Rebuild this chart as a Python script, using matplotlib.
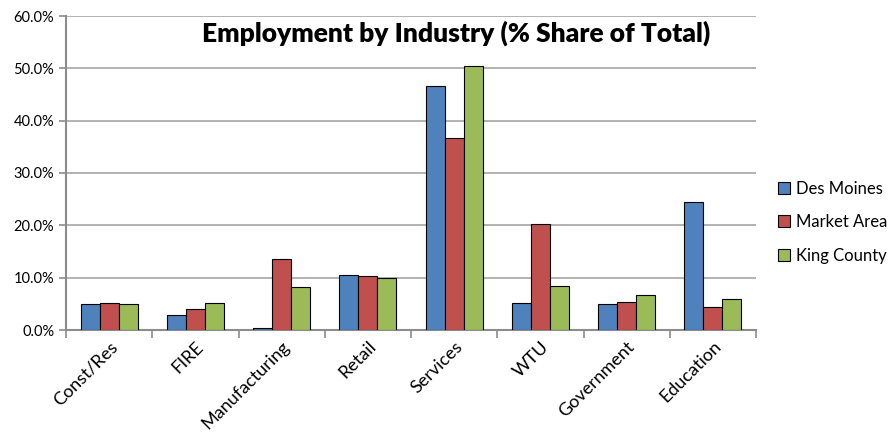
import matplotlib.pyplot as plt
import numpy as np
from matplotlib.ticker import PercentFormatter

# Industry categories and share of total employment (%)
industries = ['Const/Res', 'FIRE', 'Manufacturing', 'Retail', 'Services',
              'WTU', 'Government', 'Education']
des_moines = [4.9, 2.8, 0.3, 10.5, 46.6, 5.2, 4.9, 24.4]
market_area = [5.2, 3.95, 13.5, 10.4, 36.75, 20.25, 5.35, 4.3]
king_county = [4.9, 5.1, 8.3, 9.9, 50.4, 8.5, 6.75, 5.85]

series = [('Des Moines', des_moines, '#4F81BD'),
          ('Market Area', market_area, '#C0504D'),
          ('King County', king_county, '#9BBB59')]

plt.rcParams['font.family'] = ['Lato', 'DejaVu Sans']

fig = plt.figure(figsize=(8.96, 4.34), dpi=100)
ax = fig.add_axes([66 / 896, 1 - 330 / 434, 690 / 896, 314 / 434])

x = np.arange(len(industries))
width = 0.22
for i, (name, vals, color) in enumerate(series):
    ax.bar(x + (i - 1) * width, vals, width, label=name, color=color,
           edgecolor='black', linewidth=0.8, zorder=3)

ax.set_xlim(-0.5, len(industries) - 0.5)
ax.set_ylim(0, 60)
ax.set_yticks(np.arange(0, 61, 10))
ax.yaxis.set_major_formatter(PercentFormatter(decimals=1))
ax.grid(axis='y', color='#A6A6A6', linewidth=1.2, zorder=0)

ax.set_xticks(x)
ax.set_xticklabels(industries, rotation=45, ha='right', rotation_mode='anchor',
                   fontsize=13)
ax.set_xticks(np.arange(-0.5, len(industries)), minor=True)
ax.tick_params(axis='x', which='major', length=0, pad=6)
ax.tick_params(axis='x', which='minor', length=6, color='#8C8C8C', width=1.2)
ax.tick_params(axis='y', length=5, color='#8C8C8C', width=1.2, labelsize=10.5)

for side in ['top', 'right']:
    ax.spines[side].set_visible(False)
for side in ['left', 'bottom']:
    ax.spines[side].set_color('#8C8C8C')
    ax.spines[side].set_linewidth(1.5)

ax.text(0.565, 0.985, 'Employment by Industry (% Share of Total)',
        transform=ax.transAxes, ha='center', va='top',
        fontsize=19, fontweight='heavy')

ax.legend(loc='center left', bbox_to_anchor=(778 / 896, 1 - 222 / 434),
          bbox_transform=fig.transFigure, frameon=False,
          fontsize=12, handlelength=0.7, handleheight=0.7,
          handletextpad=0.35, labelspacing=1.05, borderaxespad=0,
          borderpad=0)

fig.savefig('out.png', dpi=100)
